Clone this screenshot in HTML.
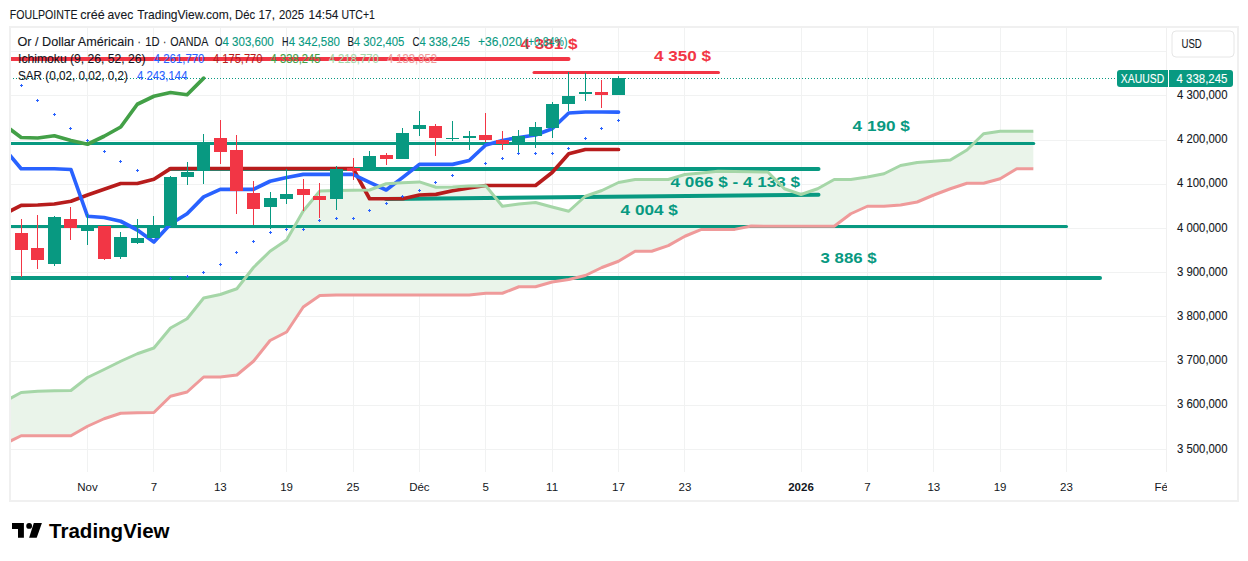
<!DOCTYPE html><html><head><meta charset="utf-8"><style>html,body{margin:0;padding:0;background:#fff;width:1248px;height:561px;overflow:hidden}svg text{font-family:"Liberation Sans",sans-serif}</style></head><body><svg width="1248" height="561" viewBox="0 0 1248 561" style="display:block">
<rect x="0" y="0" width="1248" height="561" fill="#ffffff"/>
<text x="9.8" y="18.75" font-size="12.2" fill="#131722" stroke="#131722" stroke-width="0.1" textLength="67.7" lengthAdjust="spacingAndGlyphs">FOULPOINTE</text>
<text x="80.3" y="18.75" font-size="12.2" fill="#131722" stroke="#131722" stroke-width="0.1" textLength="24.5" lengthAdjust="spacingAndGlyphs">créé</text>
<text x="107.6" y="18.75" font-size="12.2" fill="#131722" stroke="#131722" stroke-width="0.1" textLength="25.6" lengthAdjust="spacingAndGlyphs">avec</text>
<text x="137.2" y="18.75" font-size="12.2" fill="#131722" stroke="#131722" stroke-width="0.1" textLength="95.0" lengthAdjust="spacingAndGlyphs">TradingView.com,</text>
<text x="235.1" y="18.75" font-size="12.2" fill="#131722" stroke="#131722" stroke-width="0.1" textLength="20.0" lengthAdjust="spacingAndGlyphs">Déc</text>
<text x="258.6" y="18.75" font-size="12.2" fill="#131722" stroke="#131722" stroke-width="0.1" textLength="16.3" lengthAdjust="spacingAndGlyphs">17,</text>
<text x="278.9" y="18.75" font-size="12.2" fill="#131722" stroke="#131722" stroke-width="0.1" textLength="25.1" lengthAdjust="spacingAndGlyphs">2025</text>
<text x="308.6" y="18.75" font-size="12.2" fill="#131722" stroke="#131722" stroke-width="0.1" textLength="29.8" lengthAdjust="spacingAndGlyphs">14:54</text>
<text x="341.4" y="18.75" font-size="12.2" fill="#131722" stroke="#131722" stroke-width="0.1" textLength="33.5" lengthAdjust="spacingAndGlyphs">UTC+1</text>
<rect x="10" y="27" width="1228" height="474" fill="none" stroke="#f0f0f0" stroke-width="2"/>
<rect x="11" y="51" width="1156" height="1" fill="#f1f2f2"/>
<rect x="11" y="95" width="1156" height="1" fill="#f1f2f2"/>
<rect x="11" y="140" width="1156" height="1" fill="#f1f2f2"/>
<rect x="11" y="184" width="1156" height="1" fill="#f1f2f2"/>
<rect x="11" y="228" width="1156" height="1" fill="#f1f2f2"/>
<rect x="11" y="272" width="1156" height="1" fill="#f1f2f2"/>
<rect x="11" y="316" width="1156" height="1" fill="#f1f2f2"/>
<rect x="11" y="361" width="1156" height="1" fill="#f1f2f2"/>
<rect x="11" y="405" width="1156" height="1" fill="#f1f2f2"/>
<rect x="11" y="449" width="1156" height="1" fill="#f1f2f2"/>
<rect x="87" y="28" width="1" height="444" fill="#f1f2f2"/>
<rect x="153" y="28" width="1" height="444" fill="#f1f2f2"/>
<rect x="220" y="28" width="1" height="444" fill="#f1f2f2"/>
<rect x="286" y="28" width="1" height="444" fill="#f1f2f2"/>
<rect x="353" y="28" width="1" height="444" fill="#f1f2f2"/>
<rect x="419" y="28" width="1" height="444" fill="#f1f2f2"/>
<rect x="485" y="28" width="1" height="444" fill="#f1f2f2"/>
<rect x="552" y="28" width="1" height="444" fill="#f1f2f2"/>
<rect x="618" y="28" width="1" height="444" fill="#f1f2f2"/>
<rect x="684" y="28" width="1" height="444" fill="#f1f2f2"/>
<rect x="801" y="28" width="1" height="444" fill="#f1f2f2"/>
<rect x="867" y="28" width="1" height="444" fill="#f1f2f2"/>
<rect x="933" y="28" width="1" height="444" fill="#f1f2f2"/>
<rect x="1000" y="28" width="1" height="444" fill="#f1f2f2"/>
<rect x="1066" y="28" width="1" height="444" fill="#f1f2f2"/>
<rect x="1166" y="28" width="1" height="444" fill="#f0f0f0"/>
<defs><clipPath id="ca"><rect x="11" y="28" width="1155.5" height="444"/></clipPath></defs>
<g clip-path="url(#ca)">
<polygon points="4.56,401.50 21.16,392.50 37.75,391.25 54.34,390.75 70.94,390.50 87.53,377.50 104.12,369.50 120.72,361.25 137.31,353.75 153.90,348.00 170.50,328.00 187.09,318.75 203.68,298.00 220.27,294.50 236.87,288.75 253.46,267.50 270.05,251.25 286.65,240.00 303.24,211.00 319.83,191.00 336.43,190.60 353.02,190.30 369.61,190.00 386.20,183.75 402.80,182.80 419.39,181.90 435.98,187.25 452.58,186.90 469.17,186.00 485.76,185.75 502.36,206.25 518.95,204.00 535.54,202.50 552.13,207.00 568.73,211.25 585.32,196.25 601.91,190.50 618.51,182.50 635.10,179.50 651.69,179.50 668.28,179.50 684.88,174.50 701.47,172.90 718.06,171.25 734.66,171.50 751.25,171.75 767.84,172.00 784.44,188.75 801.03,194.50 817.62,188.75 834.21,179.50 850.81,179.50 867.40,177.00 883.99,173.75 900.59,165.50 917.18,162.50 933.77,161.25 950.37,160.00 966.96,150.00 983.55,133.75 1000.14,131.25 1016.74,131.25 1033.33,131.25 1033.33,168.75 1016.74,168.75 1000.14,178.75 983.55,183.25 966.96,183.25 950.37,188.75 933.77,195.00 917.18,202.00 900.59,205.00 883.99,206.25 867.40,206.25 850.81,213.75 834.21,226.25 817.62,226.25 801.03,226.25 784.44,226.25 767.84,226.25 751.25,226.00 734.66,229.40 718.06,229.40 701.47,229.40 684.88,236.25 668.28,245.60 651.69,251.25 635.10,251.25 618.51,261.25 601.91,267.50 585.32,275.50 568.73,279.50 552.13,282.00 535.54,286.75 518.95,286.75 502.36,293.25 485.76,293.25 469.17,295.00 452.58,295.00 435.98,295.00 419.39,295.00 402.80,295.00 386.20,295.00 369.61,295.00 353.02,295.00 336.43,295.00 319.83,295.50 303.24,307.00 286.65,332.00 270.05,340.50 253.46,361.25 236.87,375.00 220.27,377.00 203.68,377.00 187.09,392.00 170.50,396.25 153.90,412.50 137.31,412.75 120.72,413.25 104.12,418.75 87.53,426.25 70.94,435.75 54.34,435.75 37.75,435.75 21.16,435.75 4.56,444.00" fill="#eaf4ea"/>
<line x1="0" y1="143.5" x2="1033.75" y2="143.5" stroke="#089981" stroke-width="3" stroke-linecap="round"/>
<line x1="170" y1="169" x2="818.5" y2="169" stroke="#089981" stroke-width="4" stroke-linecap="round"/>
<line x1="386" y1="198.9" x2="818.5" y2="194.8" stroke="#089981" stroke-width="4" stroke-linecap="round"/>
<line x1="0" y1="226.5" x2="1066.5" y2="226.5" stroke="#089981" stroke-width="3" stroke-linecap="round"/>
<line x1="0" y1="278" x2="1100" y2="278" stroke="#089981" stroke-width="4" stroke-linecap="round"/>
<line x1="0" y1="59" x2="568.5" y2="59" stroke="#F23645" stroke-width="4" stroke-linecap="round"/>
<line x1="534" y1="72.5" x2="718.5" y2="72.5" stroke="#F23645" stroke-width="3" stroke-linecap="round"/>
<text x="520.5" y="48.7" font-size="15.4" font-weight="700" fill="#F23645" textLength="57" lengthAdjust="spacingAndGlyphs">4 381 $</text>
<text x="653.9" y="60.67" font-size="15.4" font-weight="700" fill="#F23645" textLength="57" lengthAdjust="spacingAndGlyphs">4 350 $</text>
<text x="852.6" y="130.67" font-size="15.4" font-weight="700" fill="#089981" textLength="57.2" lengthAdjust="spacingAndGlyphs">4 190 $</text>
<text x="670.6" y="186.67" font-size="15.4" font-weight="700" fill="#089981" textLength="129.4" lengthAdjust="spacingAndGlyphs">4 066 $ - 4 133 $</text>
<text x="620.6" y="214.67" font-size="15.4" font-weight="700" fill="#089981" textLength="57.2" lengthAdjust="spacingAndGlyphs">4 004 $</text>
<text x="820.6" y="262.67" font-size="15.4" font-weight="700" fill="#089981" textLength="56.1" lengthAdjust="spacingAndGlyphs">3 886 $</text>
<polyline points="4.56,214.00 21.16,205.40 37.75,205.00 54.34,204.00 70.94,201.25 87.53,195.00 104.12,189.20 120.72,183.50 137.31,183.50 153.90,179.30 170.50,168.60 187.09,168.50 203.68,168.50 220.27,168.50 236.87,168.50 253.46,168.50 270.05,168.50 286.65,168.50 303.24,168.50 319.83,168.50 336.43,168.50 353.02,168.50 369.61,198.75 386.20,198.75 402.80,198.75 419.39,195.00 435.98,194.40 452.58,190.80 469.17,188.00 485.76,185.50 502.36,185.50 518.95,185.50 535.54,185.50 552.13,172.50 568.73,153.75 585.32,149.50 601.91,149.50 618.51,149.50" fill="none" stroke="#B71C1C" stroke-width="3.7" stroke-linejoin="round" stroke-linecap="round"/>
<polyline points="4.56,149.00 21.16,168.75 37.75,168.75 54.34,168.75 70.94,169.50 87.53,216.25 104.12,217.50 120.72,221.25 137.31,230.00 153.90,242.00 170.50,224.00 187.09,213.75 203.68,196.90 220.27,189.40 236.87,189.40 253.46,189.40 270.05,181.25 286.65,177.50 303.24,174.40 319.83,174.40 336.43,174.40 353.02,174.40 369.61,182.40 386.20,190.00 402.80,177.40 419.39,164.40 435.98,164.40 452.58,164.40 469.17,160.50 485.76,145.00 502.36,140.50 518.95,137.50 535.54,135.00 552.13,128.75 568.73,113.00 585.32,112.00 601.91,112.00 618.51,112.20" fill="none" stroke="#2962FF" stroke-width="3.7" stroke-linejoin="round" stroke-linecap="round"/>
<polyline points="4.56,125.00 21.16,137.50 37.75,138.00 54.34,135.75 70.94,140.50 87.53,144.25 104.12,136.25 120.72,127.00 137.31,104.25 153.90,96.25 170.50,92.50 187.09,94.75 203.68,78.10" fill="none" stroke="#43A047" stroke-width="3.7" stroke-linejoin="round" stroke-linecap="round"/>
<polyline points="4.56,401.50 21.16,392.50 37.75,391.25 54.34,390.75 70.94,390.50 87.53,377.50 104.12,369.50 120.72,361.25 137.31,353.75 153.90,348.00 170.50,328.00 187.09,318.75 203.68,298.00 220.27,294.50 236.87,288.75 253.46,267.50 270.05,251.25 286.65,240.00 303.24,211.00 319.83,191.00 336.43,190.60 353.02,190.30 369.61,190.00 386.20,183.75 402.80,182.80 419.39,181.90 435.98,187.25 452.58,186.90 469.17,186.00 485.76,185.75 502.36,206.25 518.95,204.00 535.54,202.50 552.13,207.00 568.73,211.25 585.32,196.25 601.91,190.50 618.51,182.50 635.10,179.50 651.69,179.50 668.28,179.50 684.88,174.50 701.47,172.90 718.06,171.25 734.66,171.50 751.25,171.75 767.84,172.00 784.44,188.75 801.03,194.50 817.62,188.75 834.21,179.50 850.81,179.50 867.40,177.00 883.99,173.75 900.59,165.50 917.18,162.50 933.77,161.25 950.37,160.00 966.96,150.00 983.55,133.75 1000.14,131.25 1016.74,131.25 1033.33,131.25" fill="none" stroke="#A5D6A7" stroke-width="3" stroke-linejoin="round"/>
<polyline points="4.56,444.00 21.16,435.75 37.75,435.75 54.34,435.75 70.94,435.75 87.53,426.25 104.12,418.75 120.72,413.25 137.31,412.75 153.90,412.50 170.50,396.25 187.09,392.00 203.68,377.00 220.27,377.00 236.87,375.00 253.46,361.25 270.05,340.50 286.65,332.00 303.24,307.00 319.83,295.50 336.43,295.00 353.02,295.00 369.61,295.00 386.20,295.00 402.80,295.00 419.39,295.00 435.98,295.00 452.58,295.00 469.17,295.00 485.76,293.25 502.36,293.25 518.95,286.75 535.54,286.75 552.13,282.00 568.73,279.50 585.32,275.50 601.91,267.50 618.51,261.25 635.10,251.25 651.69,251.25 668.28,245.60 684.88,236.25 701.47,229.40 718.06,229.40 734.66,229.40 751.25,226.00 767.84,226.25 784.44,226.25 801.03,226.25 817.62,226.25 834.21,226.25 850.81,213.75 867.40,206.25 883.99,206.25 900.59,205.00 917.18,202.00 933.77,195.00 950.37,188.75 966.96,183.25 983.55,183.25 1000.14,178.75 1016.74,168.75 1033.33,168.75" fill="none" stroke="#EF9A9A" stroke-width="3" stroke-linejoin="round"/>
<rect x="21" y="219" width="1" height="58" fill="#F23645"/>
<rect x="15" y="233" width="13" height="17" fill="#F23645"/>
<rect x="37" y="215" width="1" height="54" fill="#F23645"/>
<rect x="31" y="248" width="13" height="12" fill="#F23645"/>
<rect x="54" y="216" width="1" height="50" fill="#089981"/>
<rect x="48" y="217" width="13" height="47" fill="#089981"/>
<rect x="70" y="207" width="1" height="33" fill="#F23645"/>
<rect x="64" y="219" width="13" height="9" fill="#F23645"/>
<rect x="87" y="214" width="1" height="31" fill="#089981"/>
<rect x="81" y="226" width="13" height="5" fill="#089981"/>
<rect x="104" y="226" width="1" height="34" fill="#F23645"/>
<rect x="98" y="226" width="13" height="33" fill="#F23645"/>
<rect x="120" y="232" width="1" height="27" fill="#089981"/>
<rect x="114" y="237" width="13" height="20" fill="#089981"/>
<rect x="137" y="219" width="1" height="25" fill="#089981"/>
<rect x="131" y="238" width="13" height="5" fill="#089981"/>
<rect x="153" y="216" width="1" height="22" fill="#089981"/>
<rect x="147" y="226" width="13" height="12" fill="#089981"/>
<rect x="170" y="176" width="1" height="50" fill="#089981"/>
<rect x="164" y="177" width="13" height="49" fill="#089981"/>
<rect x="187" y="162" width="1" height="23" fill="#089981"/>
<rect x="181" y="172" width="13" height="5" fill="#089981"/>
<rect x="203" y="134" width="1" height="50" fill="#089981"/>
<rect x="197" y="142" width="13" height="29" fill="#089981"/>
<rect x="220" y="120" width="1" height="44" fill="#F23645"/>
<rect x="214" y="138" width="13" height="14" fill="#F23645"/>
<rect x="236" y="135" width="1" height="79" fill="#F23645"/>
<rect x="230" y="150" width="13" height="41" fill="#F23645"/>
<rect x="253" y="181" width="1" height="44" fill="#F23645"/>
<rect x="247" y="193" width="13" height="16" fill="#F23645"/>
<rect x="270" y="192" width="1" height="37" fill="#089981"/>
<rect x="264" y="198" width="13" height="9" fill="#089981"/>
<rect x="286" y="169" width="1" height="35" fill="#089981"/>
<rect x="280" y="194" width="13" height="5" fill="#089981"/>
<rect x="303" y="179" width="1" height="32" fill="#F23645"/>
<rect x="297" y="189" width="13" height="6" fill="#F23645"/>
<rect x="319" y="183" width="1" height="35" fill="#F23645"/>
<rect x="313" y="196" width="13" height="4" fill="#F23645"/>
<rect x="336" y="166" width="1" height="44" fill="#089981"/>
<rect x="330" y="169" width="13" height="30" fill="#089981"/>
<rect x="353" y="158" width="1" height="22" fill="#F23645"/>
<rect x="347" y="168" width="13" height="3" fill="#F23645"/>
<rect x="369" y="151" width="1" height="16" fill="#089981"/>
<rect x="363" y="156" width="13" height="11" fill="#089981"/>
<rect x="386" y="153" width="1" height="12" fill="#F23645"/>
<rect x="380" y="155" width="13" height="4" fill="#F23645"/>
<rect x="402" y="128" width="1" height="31" fill="#089981"/>
<rect x="396" y="133" width="13" height="26" fill="#089981"/>
<rect x="419" y="111" width="1" height="25" fill="#089981"/>
<rect x="413" y="125" width="13" height="4" fill="#089981"/>
<rect x="435" y="124" width="1" height="32" fill="#F23645"/>
<rect x="429" y="126" width="13" height="12" fill="#F23645"/>
<rect x="452" y="121" width="1" height="20" fill="#089981"/>
<rect x="446" y="138" width="13" height="1" fill="#089981"/>
<rect x="469" y="131" width="1" height="19" fill="#089981"/>
<rect x="463" y="136" width="13" height="2" fill="#089981"/>
<rect x="485" y="113" width="1" height="29" fill="#F23645"/>
<rect x="479" y="135" width="13" height="5" fill="#F23645"/>
<rect x="502" y="131" width="1" height="19" fill="#F23645"/>
<rect x="496" y="140" width="13" height="4" fill="#F23645"/>
<rect x="518" y="130" width="1" height="24" fill="#089981"/>
<rect x="512" y="136" width="13" height="7" fill="#089981"/>
<rect x="535" y="122" width="1" height="26" fill="#089981"/>
<rect x="529" y="127" width="13" height="9" fill="#089981"/>
<rect x="552" y="102" width="1" height="36" fill="#089981"/>
<rect x="546" y="104" width="13" height="24" fill="#089981"/>
<rect x="568" y="72" width="1" height="39" fill="#089981"/>
<rect x="562" y="96" width="13" height="8" fill="#089981"/>
<rect x="585" y="73" width="1" height="28" fill="#089981"/>
<rect x="579" y="92" width="13" height="2" fill="#089981"/>
<rect x="601" y="80" width="1" height="28" fill="#F23645"/>
<rect x="595" y="92" width="13" height="3" fill="#F23645"/>
<rect x="618" y="76" width="1" height="19" fill="#089981"/>
<rect x="612" y="78" width="13" height="17" fill="#089981"/>
<path d="M20,85h3v1h-3zM21,84h1v3h-1z" fill="#2962FF"/>
<path d="M36,100h3v1h-3zM37,99h1v3h-1z" fill="#2962FF"/>
<path d="M53,114h3v1h-3zM54,113h1v3h-1z" fill="#2962FF"/>
<path d="M69,128h3v1h-3zM70,127h1v3h-1z" fill="#2962FF"/>
<path d="M86,140h3v1h-3zM87,139h1v3h-1z" fill="#2962FF"/>
<path d="M103,151h3v1h-3zM104,150h1v3h-1z" fill="#2962FF"/>
<path d="M119,161h3v1h-3zM120,160h1v3h-1z" fill="#2962FF"/>
<path d="M136,170h3v1h-3zM137,169h1v3h-1z" fill="#2962FF"/>
<path d="M169,278h3v1h-3zM170,277h1v3h-1z" fill="#2962FF"/>
<path d="M186,276h3v1h-3zM187,275h1v3h-1z" fill="#2962FF"/>
<path d="M202,272h3v1h-3zM203,271h1v3h-1z" fill="#2962FF"/>
<path d="M219,264h3v1h-3zM220,263h1v3h-1z" fill="#2962FF"/>
<path d="M235,252h3v1h-3zM236,251h1v3h-1z" fill="#2962FF"/>
<path d="M252,241h3v1h-3zM253,240h1v3h-1z" fill="#2962FF"/>
<path d="M269,232h3v1h-3zM270,231h1v3h-1z" fill="#2962FF"/>
<path d="M285,229h3v1h-3zM286,228h1v3h-1z" fill="#2962FF"/>
<path d="M302,229h3v1h-3zM303,228h1v3h-1z" fill="#2962FF"/>
<path d="M318,220h3v1h-3zM319,219h1v3h-1z" fill="#2962FF"/>
<path d="M335,218h3v1h-3zM336,217h1v3h-1z" fill="#2962FF"/>
<path d="M352,218h3v1h-3zM353,217h1v3h-1z" fill="#2962FF"/>
<path d="M368,210h3v1h-3zM369,209h1v3h-1z" fill="#2962FF"/>
<path d="M385,203h3v1h-3zM386,202h1v3h-1z" fill="#2962FF"/>
<path d="M401,196h3v1h-3zM402,195h1v3h-1z" fill="#2962FF"/>
<path d="M418,190h3v1h-3zM419,189h1v3h-1z" fill="#2962FF"/>
<path d="M434,182h3v1h-3zM435,181h1v3h-1z" fill="#2962FF"/>
<path d="M451,175h3v1h-3zM452,174h1v3h-1z" fill="#2962FF"/>
<path d="M484,163h3v1h-3zM485,162h1v3h-1z" fill="#2962FF"/>
<path d="M501,158h3v1h-3zM502,157h1v3h-1z" fill="#2962FF"/>
<path d="M517,153h3v1h-3zM518,152h1v3h-1z" fill="#2962FF"/>
<path d="M534,153h3v1h-3zM535,152h1v3h-1z" fill="#2962FF"/>
<path d="M551,153h3v1h-3zM552,152h1v3h-1z" fill="#2962FF"/>
<path d="M567,148h3v1h-3zM568,147h1v3h-1z" fill="#2962FF"/>
<path d="M584,138h3v1h-3zM585,137h1v3h-1z" fill="#2962FF"/>
<path d="M600,128h3v1h-3zM601,127h1v3h-1z" fill="#2962FF"/>
<path d="M617,120h3v1h-3zM618,119h1v3h-1z" fill="#2962FF"/>
<line x1="10" y1="78.5" x2="1117" y2="78.5" stroke="#089981" stroke-width="1" stroke-dasharray="1 2"/>
</g>
<text x="17.5" y="45.6" font-size="12" fill="#131722" stroke="#131722" stroke-width="0.1" textLength="116.5" lengthAdjust="spacingAndGlyphs">Or / Dollar Américain</text>
<text x="137.4" y="45.6" font-size="12" fill="#131722" stroke="#131722" stroke-width="0.1" textLength="3.3" lengthAdjust="spacingAndGlyphs">·</text>
<text x="145.3" y="45.6" font-size="12" fill="#131722" stroke="#131722" stroke-width="0.1" textLength="14.3" lengthAdjust="spacingAndGlyphs">1D</text>
<text x="163.1" y="45.6" font-size="12" fill="#131722" stroke="#131722" stroke-width="0.1" textLength="3.3" lengthAdjust="spacingAndGlyphs">·</text>
<text x="170.3" y="45.6" font-size="12" fill="#131722" stroke="#131722" stroke-width="0.1" textLength="38" lengthAdjust="spacingAndGlyphs">OANDA</text>
<text x="215" y="45.6" font-size="12" fill="#131722" stroke="#131722" stroke-width="0.1" textLength="7.5" lengthAdjust="spacingAndGlyphs">O</text>
<text x="222.5" y="45.6" font-size="12" fill="#089981" stroke="#089981" stroke-width="0.1" textLength="51.25" lengthAdjust="spacingAndGlyphs">4 303,600</text>
<text x="281.9" y="45.6" font-size="12" fill="#131722" stroke="#131722" stroke-width="0.1" textLength="6.5" lengthAdjust="spacingAndGlyphs">H</text>
<text x="288.75" y="45.6" font-size="12" fill="#089981" stroke="#089981" stroke-width="0.1" textLength="51.25" lengthAdjust="spacingAndGlyphs">4 342,580</text>
<text x="347.5" y="45.6" font-size="12" fill="#131722" stroke="#131722" stroke-width="0.1" textLength="6.5" lengthAdjust="spacingAndGlyphs">B</text>
<text x="353.75" y="45.6" font-size="12" fill="#089981" stroke="#089981" stroke-width="0.1" textLength="50.65" lengthAdjust="spacingAndGlyphs">4 302,405</text>
<text x="412.5" y="45.6" font-size="12" fill="#131722" stroke="#131722" stroke-width="0.1" textLength="7" lengthAdjust="spacingAndGlyphs">C</text>
<text x="419.4" y="45.6" font-size="12" fill="#089981" stroke="#089981" stroke-width="0.1" textLength="50.5" lengthAdjust="spacingAndGlyphs">4 338,245</text>
<text x="478" y="45.6" font-size="12" fill="#089981" stroke="#089981" stroke-width="0.1" textLength="43.9" lengthAdjust="spacingAndGlyphs">+36,020</text>
<text x="524.4" y="45.6" font-size="12" fill="#089981" stroke="#089981" stroke-width="0.1" textLength="43.1" lengthAdjust="spacingAndGlyphs">(+0,84%)</text>
<text x="18.1" y="62.75" font-size="12" fill="#131722" stroke="#131722" stroke-width="0.1" textLength="127.5" lengthAdjust="spacingAndGlyphs">Ichimoku (9, 26, 52, 26)</text>
<text x="153.75" y="62.75" font-size="12" fill="#2962FF" stroke="#2962FF" stroke-width="0.1" textLength="50.65" lengthAdjust="spacingAndGlyphs">4 261,770</text>
<text x="213" y="62.75" font-size="12" fill="#B71C1C" stroke="#B71C1C" stroke-width="0.1" textLength="49.5" lengthAdjust="spacingAndGlyphs">4 175,770</text>
<text x="270.6" y="62.75" font-size="12" fill="#43A047" stroke="#43A047" stroke-width="0.1" textLength="50" lengthAdjust="spacingAndGlyphs">4 338,245</text>
<text x="328.75" y="62.75" font-size="12" fill="#A5D6A7" stroke="#A5D6A7" stroke-width="0.1" textLength="50" lengthAdjust="spacingAndGlyphs">4 218,770</text>
<text x="386.9" y="62.75" font-size="12" fill="#EF9A9A" stroke="#EF9A9A" stroke-width="0.1" textLength="50" lengthAdjust="spacingAndGlyphs">4 133,952</text>
<text x="18" y="80" font-size="12" fill="#131722" stroke="#131722" stroke-width="0.1" textLength="110" lengthAdjust="spacingAndGlyphs">SAR (0,02, 0,02, 0,2)</text>
<text x="136.9" y="80" font-size="12" fill="#2962FF" stroke="#2962FF" stroke-width="0.1" textLength="50.6" lengthAdjust="spacingAndGlyphs">4 243,144</text>
<rect x="1172" y="31" width="62" height="26" rx="4" fill="#ffffff" stroke="#e6e6e6" stroke-width="1"/>
<text x="1181.5" y="47.9" font-size="12" fill="#131722" stroke="#131722" stroke-width="0.1" textLength="20.3" lengthAdjust="spacingAndGlyphs">USD</text>
<path d="M1120,70H1168V87H1120A3,3 0 0 1 1117,84V73A3,3 0 0 1 1120,70Z" fill="#089981"/>
<path d="M1169,70H1230A3,3 0 0 1 1233,73V84A3,3 0 0 1 1230,87H1169Z" fill="#089981"/>
<text x="1120.8" y="83" font-size="12.6" fill="#ffffff" stroke="#ffffff" stroke-width="0.1" textLength="43.4" lengthAdjust="spacingAndGlyphs">XAUUSD</text>
<text x="1176.6" y="83" font-size="12.4" fill="#ffffff" stroke="#ffffff" stroke-width="0.1" textLength="50.8" lengthAdjust="spacingAndGlyphs">4 338,245</text>
<text x="1177" y="98.8" font-size="12.4" fill="#131722" stroke="#131722" stroke-width="0.1" textLength="50.5" lengthAdjust="spacingAndGlyphs">4 300,000</text>
<text x="1177" y="143.04" font-size="12.4" fill="#131722" stroke="#131722" stroke-width="0.1" textLength="50.5" lengthAdjust="spacingAndGlyphs">4 200,000</text>
<text x="1177" y="187.28" font-size="12.4" fill="#131722" stroke="#131722" stroke-width="0.1" textLength="50.5" lengthAdjust="spacingAndGlyphs">4 100,000</text>
<text x="1177" y="231.52" font-size="12.4" fill="#131722" stroke="#131722" stroke-width="0.1" textLength="50.5" lengthAdjust="spacingAndGlyphs">4 000,000</text>
<text x="1177" y="275.76" font-size="12.4" fill="#131722" stroke="#131722" stroke-width="0.1" textLength="50.5" lengthAdjust="spacingAndGlyphs">3 900,000</text>
<text x="1177" y="320.0" font-size="12.4" fill="#131722" stroke="#131722" stroke-width="0.1" textLength="50.5" lengthAdjust="spacingAndGlyphs">3 800,000</text>
<text x="1177" y="364.24" font-size="12.4" fill="#131722" stroke="#131722" stroke-width="0.1" textLength="50.5" lengthAdjust="spacingAndGlyphs">3 700,000</text>
<text x="1177" y="408.48" font-size="12.4" fill="#131722" stroke="#131722" stroke-width="0.1" textLength="50.5" lengthAdjust="spacingAndGlyphs">3 600,000</text>
<text x="1177" y="452.72" font-size="12.4" fill="#131722" stroke="#131722" stroke-width="0.1" textLength="50.5" lengthAdjust="spacingAndGlyphs">3 500,000</text>
<text x="87.5" y="490.9" font-size="11.5" fill="#131722" text-anchor="middle" >Nov</text>
<text x="153.9" y="490.9" font-size="11.5" fill="#131722" text-anchor="middle" >7</text>
<text x="220.3" y="490.9" font-size="11.5" fill="#131722" text-anchor="middle" >13</text>
<text x="286.6" y="490.9" font-size="11.5" fill="#131722" text-anchor="middle" >19</text>
<text x="353.0" y="490.9" font-size="11.5" fill="#131722" text-anchor="middle" >25</text>
<text x="419.4" y="490.9" font-size="11.5" fill="#131722" text-anchor="middle" >Déc</text>
<text x="485.8" y="490.9" font-size="11.5" fill="#131722" text-anchor="middle" >5</text>
<text x="552.1" y="490.9" font-size="11.5" fill="#131722" text-anchor="middle" >11</text>
<text x="618.5" y="490.9" font-size="11.5" fill="#131722" text-anchor="middle" >17</text>
<text x="684.9" y="490.9" font-size="11.5" fill="#131722" text-anchor="middle" >23</text>
<text x="801.0" y="490.9" font-size="11.5" fill="#131722" text-anchor="middle" font-weight="700">2026</text>
<text x="867.4" y="490.9" font-size="11.5" fill="#131722" text-anchor="middle" >7</text>
<text x="933.8" y="490.9" font-size="11.5" fill="#131722" text-anchor="middle" >13</text>
<text x="1000.1" y="490.9" font-size="11.5" fill="#131722" text-anchor="middle" >19</text>
<text x="1066.5" y="490.9" font-size="11.5" fill="#131722" text-anchor="middle" >23</text>
<defs><clipPath id="fe"><rect x="1100" y="470" width="67" height="30"/></clipPath></defs>
<text x="1154.6" y="490.9" font-size="11.5" fill="#131722" clip-path="url(#fe)">Fév</text>
<path d="M12,523.1H23.9V537.8H18V528.9H12Z" fill="#000000"/>
<circle cx="29.15" cy="525.9" r="2.9" fill="#000000"/>
<path d="M33.8,523.1H41.9L36.7,537.8H29.15Z" fill="#000000"/>
<text x="49.1" y="537.8" font-size="20" font-weight="700" fill="#000000" textLength="120.4" lengthAdjust="spacingAndGlyphs">TradingView</text>
</svg></body></html>
